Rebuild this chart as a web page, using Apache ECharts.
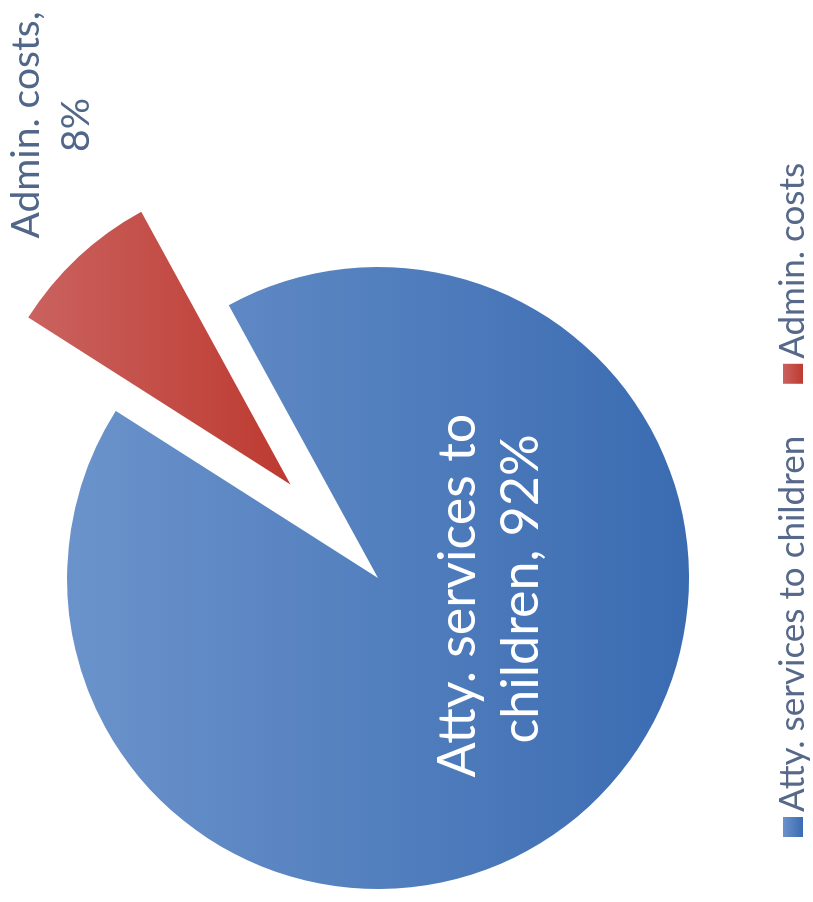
<!DOCTYPE html>
<html>
<head>
<meta charset="utf-8">
<script src="https://cdn.jsdelivr.net/npm/echarts@6/dist/echarts.min.js"></script>
<style>
  html, body { margin: 0; padding: 0; background: #ffffff; overflow: hidden; }
  body { width: 813px; height: 902px; position: relative; }
  /* The chart is laid out landscape, then turned a quarter turn counter-clockwise */
  #chart {
    position: absolute; left: 0; top: 0;
    width: 902px; height: 813px;
    transform-origin: 0 0;
    transform: translateY(902px) rotate(-90deg);
  }
</style>
</head>
<body>
<div id="chart"></div>
<script>
// Budget split
const categories = ['Atty. services to children', 'Admin. costs'];
const shares = [92, 8];

// Fill gradients per slice (light to dark)
const sliceColors = [
  ['#6b93cb', '#3a6bb1'],
  ['#ca625f', '#bd3a30']
];

// Label anchor points in the landscape frame
const labelAnchors = [
  [313, 490],
  [777, 51]
];

const FONT = 'Lato, "Open Sans", sans-serif';
const total = shares.reduce((a, b) => a + b, 0);
const pct = shares.map(v => Math.round(v / total * 100));

const chart = echarts.init(document.getElementById('chart'), null, { renderer: 'canvas' });

const data = categories.map((name, i) => ({
  name: name,
  value: shares[i],
  selected: i === 1,
  itemStyle: {
    color: new echarts.graphic.LinearGradient(0, 0, 0, 1, [
      { offset: 0, color: sliceColors[i][0] },
      { offset: 1, color: sliceColors[i][1] }
    ])
  },
  // the exploded slice carries its caption as a free text element below
  label: i === 0
    ? { show: true, color: '#ffffff', fontSize: 52, width: 420, lineHeight: 63 }
    : { show: false }
}));

chart.setOption({
  animation: false,
  legend: {
    data: categories,
    orient: 'horizontal',
    left: 65,
    top: 773,
    padding: 0,
    icon: 'rect',
    itemWidth: 20,
    itemHeight: 20,
    itemGap: 52,
    textStyle: { fontFamily: FONT, fontSize: 35, color: '#56698a', lineHeight: 40 }
  },
  graphic: [{
    type: 'text',
    x: labelAnchors[1][0],
    y: labelAnchors[1][1],
    silent: true,
    style: {
      text: categories[1] + ',\n' + pct[1] + '%',
      fontFamily: FONT,
      fontSize: 39,
      lineHeight: 50,
      fill: '#516789',
      align: 'center',
      verticalAlign: 'middle'
    }
  }],
  series: [{
    type: 'pie',
    center: [324, 378],
    radius: 311,
    startAngle: 28.7,
    clockwise: true,
    selectedMode: 'single',
    selectedOffset: 128,
    percentPrecision: 0,
    label: {
      show: true,
      position: 'inside',
      fontFamily: FONT,
      overflow: 'break',
      align: 'center',
      formatter: (p) => p.name + ', ' + p.percent + '%'
    },
    labelLine: { show: false },
    labelLayout: (p) => ({
      x: labelAnchors[p.dataIndex][0],
      y: labelAnchors[p.dataIndex][1],
      align: 'center',
      verticalAlign: 'middle'
    }),
    emphasis: { disabled: true },
    data: data
  }]
});
</script>
</body>
</html>
